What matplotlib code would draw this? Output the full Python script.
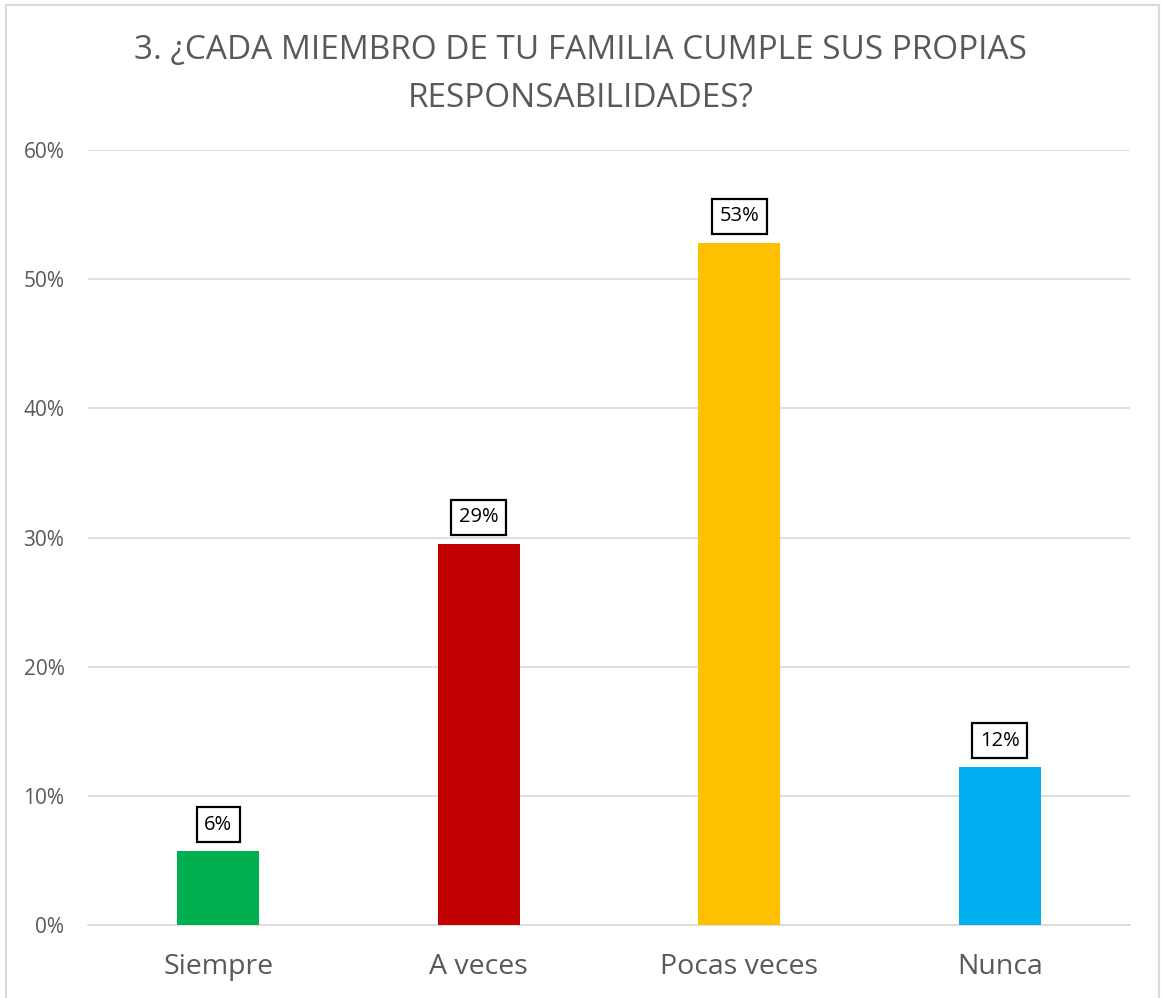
import matplotlib.pyplot as plt
from matplotlib.ticker import PercentFormatter
from matplotlib.patches import Rectangle

categories = ["Siempre", "A veces", "Pocas veces", "Nunca"]
values = [5.7, 29.5, 52.8, 12.2]
labels = ["6%", "29%", "53%", "12%"]
colors = ["#00B050", "#C00000", "#FFC000", "#00B0F0"]
yticks = [0, 10, 20, 30, 40, 50, 60]

plt.rcParams['font.family'] = ['Open Sans', 'DejaVu Sans']

fig = plt.figure(figsize=(11.61, 9.98), dpi=100)
ax = fig.add_axes([0.0758, 0.0731, 0.8975, 0.7766])

x = range(len(categories))
bars = ax.bar(x, values, width=0.315, color=colors, zorder=3)

for bar, lab in zip(bars, labels):
    ax.annotate(lab, (bar.get_x() + bar.get_width() / 2, bar.get_height()),
                xytext=(0, 12), textcoords="offset points", ha="center", va="bottom",
                fontsize=14.5, color="black",
                bbox=dict(boxstyle="square,pad=0.38", fc="white", ec="black", lw=1.6))

ax.set_xlim(-0.5, len(categories) - 0.5)
ax.set_ylim(0, 60)
ax.set_yticks(yticks)
ax.yaxis.set_major_formatter(PercentFormatter(decimals=0))
ax.set_xticks(list(x))
ax.set_xticklabels(categories, fontsize=20.5, color="#595959")
ax.tick_params(axis="y", labelsize=15, labelcolor="#595959", length=0, pad=17)
ax.tick_params(axis="x", length=0, pad=20)
ax.grid(axis="y", color="#D9D9D9", lw=1.2, zorder=0)
for side in ["top", "right", "left"]:
    ax.spines[side].set_visible(False)
ax.spines["bottom"].set_color("#D9D9D9")
ax.spines["bottom"].set_linewidth(1.2)

fig.text(0.5, 0.925, "3. ¿CADA MIEMBRO DE TU FAMILIA CUMPLE SUS PROPIAS\nRESPONSABILIDADES?",
         ha="center", va="center", fontsize=24, color="#595959", linespacing=1.6)

fig.patches.append(Rectangle((0.005, -0.01), 0.993, 1.005, transform=fig.transFigure,
                             fill=False, ec="#D9D9D9", lw=1.5))

fig.savefig("out.png", dpi=100)
plt.close(fig)
